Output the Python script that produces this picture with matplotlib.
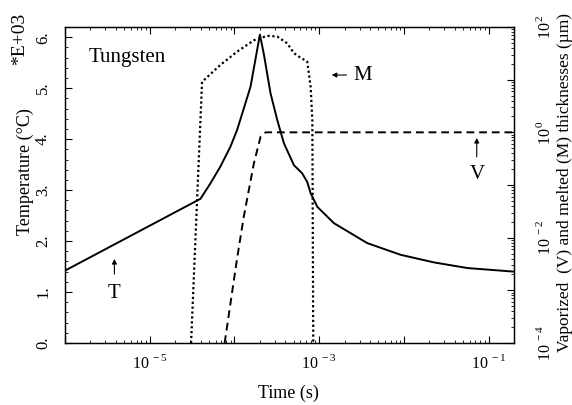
import numpy as np
import matplotlib
matplotlib.use('Agg')
import matplotlib.pyplot as plt
from matplotlib.ticker import LogLocator, MultipleLocator, FuncFormatter, NullFormatter

plt.rcParams.update({'font.family': 'Liberation Serif',
                     'mathtext.fontset': 'custom',
                     'mathtext.rm': 'Liberation Serif',
                     'font.size': 11})

# surface temperature (units of 1E+03 C) vs time (s)
t_temp = [1e-6, 3.98e-5, 5.2e-5, 6.82e-5, 8.97e-5, 1.076e-4, 1.29e-4, 1.55e-4, 2.0e-4,
          2.22e-4, 2.67e-4, 3.2e-4, 3.84e-4, 5.04e-4, 6.31e-4, 7.24e-4, 7.94e-4, 9.55e-4,
          1.5e-3, 3.7e-3, 9.2e-3, 0.0229, 0.0568, 0.2]
temp = [1.42, 2.83, 3.13, 3.46, 3.85, 4.18, 4.60, 5.03, 6.05,
        5.68, 4.90, 4.38, 3.92, 3.49, 3.33, 3.16, 2.94, 2.67,
        2.35, 1.96, 1.73, 1.58, 1.47, 1.40]

# melted thickness M (um)
t_melt = [3.08e-5, 4.15e-5, 6.82e-5, 1.076e-4, 1.7e-4, 2.45e-4, 3.2e-4, 4.2e-4,
          5.04e-4, 5.75e-4, 7.24e-4, 7.94e-4, 8.32e-4, 8.53e-4]
melt = [1e-4, 9.1, 19, 34, 56, 68, 66, 49, 32, 27.5, 22, 7.4, 1.7, 1e-4]

# vaporized thickness V (um)
t_vap = [7.67e-5, 1.07e-4, 1.29e-4, 1.7e-4, 2.04e-4, 2.34e-4, 0.2]
vap = [1e-4, 0.0038, 0.025, 0.26, 0.83, 1.0, 1.0]

fig = plt.figure(figsize=(5.72, 4.05), dpi=100)
ax = fig.add_axes([65/572, 1-343/405, 449/572, 316/405])
ax2 = ax.twinx()

ax.plot(t_temp, temp, color='black', lw=1.4)
ax2.plot(t_melt, melt, color='black', lw=1.6, linestyle=(0, (1, 1.2)))
ax2.plot(t_vap, vap, color='black', lw=1.4, linestyle=(0, (4, 2.5)))

ax.set_xscale('log')
ax.set_xlim(1e-6, 0.2)
ax.set_ylim(0, 6.2)
ax2.set_yscale('log')
ax2.set_ylim(1e-4, 1e2)

def xfmt(v, pos):
    e = int(round(np.log10(v)))
    return '10$^{\\,%d}$' % e if e in (-5, -3, -1) else ''

def y2fmt(v, pos):
    e = int(round(np.log10(v)))
    return '10$^{\\,%d}$' % e if e % 2 == 0 else ''

ax.xaxis.set_major_locator(LogLocator(base=10, numticks=20))
ax.xaxis.set_minor_locator(LogLocator(base=10, subs=np.arange(2, 10), numticks=20))
ax.xaxis.set_major_formatter(FuncFormatter(xfmt))
ax.xaxis.set_minor_formatter(NullFormatter())

ax.yaxis.set_major_locator(MultipleLocator(1))
ax.yaxis.set_minor_locator(MultipleLocator(0.2))
ax.yaxis.set_major_formatter(FuncFormatter(lambda v, p: '%d.' % round(v)))

ax2.yaxis.set_major_locator(LogLocator(base=10, numticks=20))
ax2.yaxis.set_minor_locator(LogLocator(base=10, subs=np.arange(2, 10), numticks=20))
ax2.yaxis.set_major_formatter(FuncFormatter(y2fmt))
ax2.yaxis.set_minor_formatter(NullFormatter())

ax.tick_params(axis='x', which='both', direction='in', top=True, pad=8, labelsize=11.5)
ax.tick_params(axis='y', which='both', direction='in', pad=10, labelsize=12, labelrotation=90)
ax.tick_params(which='major', length=5, width=0.8)
ax.tick_params(which='minor', length=2.5, width=0.6)
ax2.tick_params(axis='y', which='both', direction='in', pad=16, labelsize=11.5, labelrotation=90)
ax2.tick_params(which='major', length=5, width=0.8)
ax2.tick_params(which='minor', length=2.5, width=0.6)
for a in (ax, ax2):
    for s in a.spines.values():
        s.set_linewidth(0.9)

for lab in ax.get_yticklabels():
    lab.set_va('center')
for lab in ax2.get_yticklabels():
    lab.set_va('center')

fig.text(288/572, 1-393/405, 'Time (s)', ha='center', va='center', fontsize=13)
fig.text(25/572, 1-172/405, 'Temperature (\u00b0C)', rotation=90, ha='center', va='center', fontsize=13)
fig.text(565/572, 1-182/405, 'Vaporized  (V) and melted (M) thicknesses (\u00b5m)',
         rotation=90, ha='center', va='center', fontsize=12.5)
fig.text(20/572, 1-39/405, '*E+03', rotation=90, ha='center', va='center', fontsize=14)

ax.text(0.138, 0.902, 'Tungsten', transform=ax.transAxes, ha='center', va='center', fontsize=15)
arr = dict(arrowstyle='-|>', lw=0.8, color='black', mutation_scale=7, shrinkA=0, shrinkB=0)
ax.annotate('', xy=(0.594, 0.848), xytext=(0.627, 0.848), xycoords='axes fraction', arrowprops=arr)
ax.text(0.6626, 0.848, 'M', transform=ax.transAxes, ha='center', va='center', fontsize=15)
ax.annotate('', xy=(0.917, 0.649), xytext=(0.917, 0.589), xycoords='axes fraction', arrowprops=arr)
ax.text(0.9175, 0.532, 'V', transform=ax.transAxes, ha='center', va='center', fontsize=15)
ax.annotate('', xy=(0.11, 0.266), xytext=(0.11, 0.218), xycoords='axes fraction', arrowprops=arr)
ax.text(0.11, 0.158, 'T', transform=ax.transAxes, ha='center', va='center', fontsize=15)

fig.savefig('out.png', dpi=100)
